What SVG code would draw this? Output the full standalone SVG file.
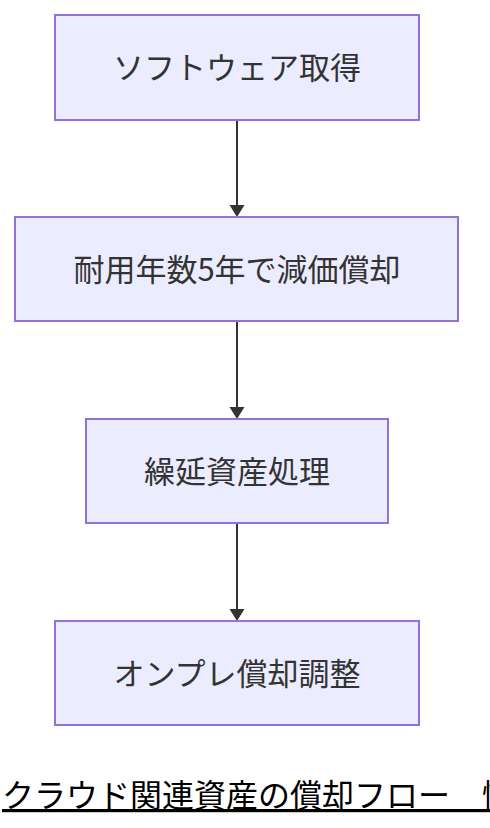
<svg xmlns="http://www.w3.org/2000/svg" width="490" height="828" viewBox="0 0 490 828">
<style>
.node rect{fill:#ECECFF;stroke:#9370DB;stroke-width:2}
.node text{font-family:"Noto Sans CJK JP","Noto Sans",sans-serif;font-size:31px;fill:#333;text-anchor:middle;dominant-baseline:central}
.title{font-family:"Noto Sans CJK JP","Noto Sans",sans-serif;font-size:32px;fill:#000;text-decoration:underline}
.edge{stroke:#333;stroke-width:2;fill:none}
.head{fill:#333}
</style>
<rect width="490" height="828" fill="#fff"/>
<g id="edges">
<path class="edge" d="M237,120 V207"/>
<path class="head" d="M229.5,205 L244.5,205 L237,217 z"/>
<path class="edge" d="M237,321 V409"/>
<path class="head" d="M229.5,407 L244.5,407 L237,419 z"/>
<path class="edge" d="M237,523 V611"/>
<path class="head" d="M229.5,609 L244.5,609 L237,621 z"/>
</g>
<g id="n1" class="node"><rect x="55" y="15" width="364" height="105"/><text x="237" y="65.5">ソフトウェア取得</text></g>
<g id="n2" class="node"><rect x="15" y="217" width="443" height="104"/><text x="237" y="267">耐用年数5年で減価償却</text></g>
<g id="n3" class="node"><rect x="86" y="419" width="302" height="104"/><text x="237" y="469">繰延資産処理</text></g>
<g id="n4" class="node"><rect x="55" y="621" width="364" height="104"/><text x="237" y="671">オンプレ償却調整</text></g>
<text class="title" x="2" y="807">クラウド関連資産の償却フロー　情</text>
</svg>
